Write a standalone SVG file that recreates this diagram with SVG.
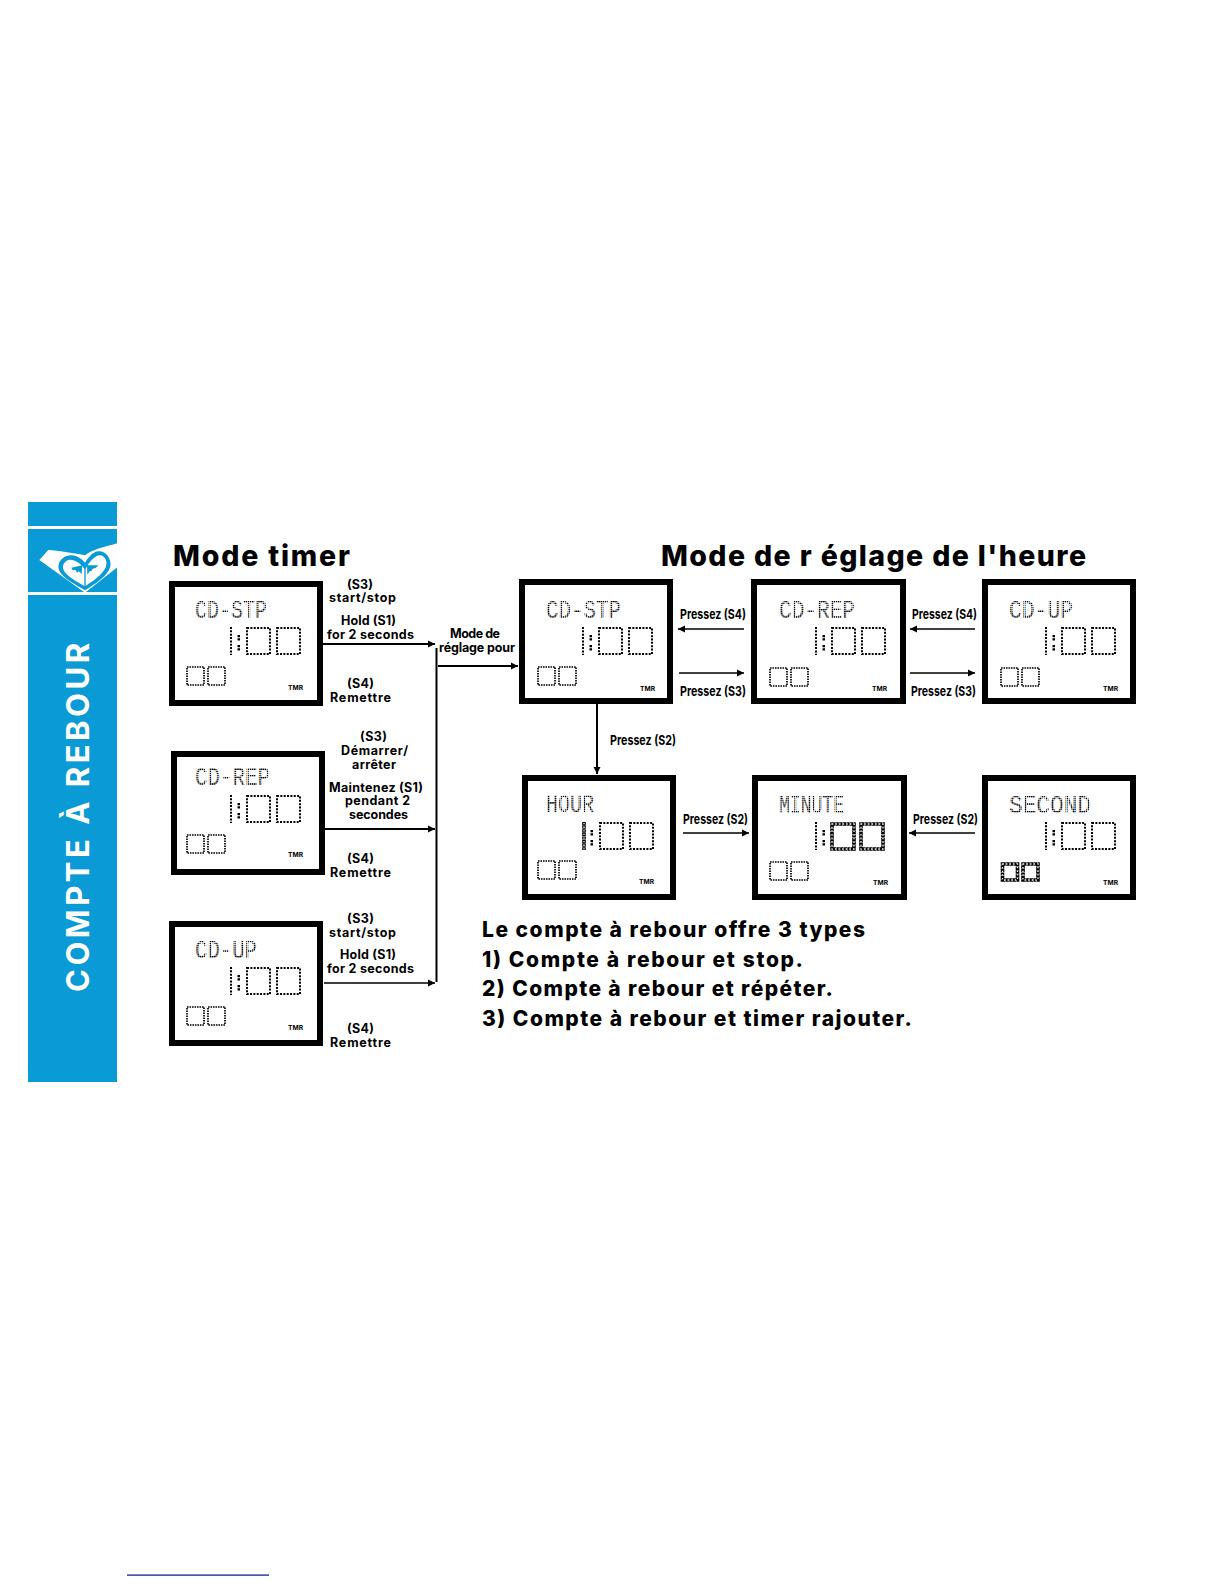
<svg xmlns="http://www.w3.org/2000/svg" width="1224" height="1584" viewBox="0 0 1224 1584">
<style>
text{font-family:Inter,"Liberation Sans",sans-serif;font-weight:700;fill:#000}
.h{font-size:28.500px;font-weight:800}
.b{font-size:21px;font-weight:800}
.l{font-size:12.5px}
.p{font-size:13.5px}
.tmr{font-size:6.5px}
.side{font-size:31px;fill:#fff;font-weight:700}
.t{font-family:"Liberation Mono","DejaVu Sans Mono",monospace;font-weight:400;font-size:26px;fill:url(#dots)}
.f{fill:#fff;stroke:#000;stroke-width:6}
.dg{fill:none;stroke:#000;stroke-width:2;stroke-dasharray:2 1.35}
.ld{fill:none;stroke:#000;stroke-width:1.7;stroke-dasharray:1.6 .9}
.o1{fill:none;stroke:#000;stroke-width:3.6;stroke-dasharray:3.2 .4}
.o2{fill:none;stroke:#fff;stroke-width:1.3;stroke-dasharray:1.3 2.3}
.c{fill:none;stroke:#000;stroke-width:2}
.c1{fill:none;stroke:#000;stroke-width:1.4}
</style>
<defs>
<pattern id="dots" width="2.1" height="2.1" patternUnits="userSpaceOnUse"><rect width="1.5" height="1.5" fill="#000"/></pattern>
<marker id="a" markerUnits="userSpaceOnUse" markerWidth="8" markerHeight="8" refX="7" refY="4" orient="auto"><path d="M0,.5L7,4L0,7.500z" fill="#000"/></marker>
<g id="bar"><line class="dg" x1="1" y1="0" x2="1" y2="28"/></g>
<g id="colon"><path d="M7.500,8h2.500v2.200h-2.500zM7.500,11.200h2.500v2.200h-2.500zM7.500,18h2.500v2.200h-2.500zM7.500,21.200h2.500v2.200h-2.500z" fill="#000"/></g>
<g id="digs"><rect class="dg" x="17" y="1" width="23" height="26"/><rect class="dg" x="47" y="1" width="23" height="26"/></g>
<g id="clock"><use href="#bar"/><use href="#colon"/><use href="#digs"/></g>
<g id="low"><rect class="ld" x="1" y="1" width="17" height="18"/><rect class="ld" x="22" y="1" width="17" height="18"/></g>
</defs>

<rect x="127" y="1574.500" width="142" height="1.200" fill="#0a0a8c"/>

<g id="sidebar">
<rect x="28" y="502" width="89" height="580" fill="#0a9bd6"/>
<rect x="28" y="526" width="89" height="3" fill="#fff"/>
<rect x="28" y="592" width="89" height="3" fill="#fff"/>
<g id="logo" transform="translate(30,530) scale(.3333)">
<path d="M28,90L55,60C85,62 125,68 165,76C190,56 230,50 262,40L262,112L165,188Z" fill="#fff"/>
<path d="M165,98C150,80 128,72 110,78C90,85 80,105 88,122C98,145 140,165 165,181C190,165 232,140 241,110C246,85 225,60 203,64C188,67 175,82 165,98Z" fill="#0a9bd6"/>
<path d="M163,116C150,98 130,86 115,90C100,96 95,110 102,122C112,140 145,157 163,168ZM167,116C177,98 195,74 212,76C228,80 233,98 227,112C218,134 188,154 167,168Z" fill="#fff"/>
<path d="M124,113L157,106L155,132L146,124L141,128L137,120L128,121ZM171,106L205,106L197,114L188,116L185,122L179,124L172,134Z" fill="#0a9bd6"/>
</g>
<text class="side" transform="translate(89,992) rotate(-90)" textLength="349">COMPTE À REBOUR</text>
</g>

<g id="titles">
<text class="h" x="173" y="566" textLength="177">Mode timer</text>
<text class="h" x="661" y="566" textLength="425">Mode de r églage de l'heure</text>
</g>

<g id="timer-cd-stp">
<rect class="f" x="172" y="584" width="148" height="119"/>
<text class="t" x="195" y="618" textLength="72" lengthAdjust="spacingAndGlyphs">CD-STP</text>
<use href="#clock" x="230" y="627"/><use href="#low" x="186" y="666"/>
<text class="tmr" x="288" y="690" textLength="15" lengthAdjust="spacingAndGlyphs">TMR</text>
</g>
<g id="timer-cd-rep">
<rect class="f" x="174" y="754" width="148" height="118"/>
<text class="t" x="195" y="785" textLength="75" lengthAdjust="spacingAndGlyphs">CD-REP</text>
<use href="#clock" x="230" y="795"/><use href="#low" x="186" y="834"/>
<text class="tmr" x="288" y="857" textLength="15" lengthAdjust="spacingAndGlyphs">TMR</text>
</g>
<g id="timer-cd-up">
<rect class="f" x="172" y="924" width="148" height="119"/>
<text class="t" x="195" y="958" textLength="62" lengthAdjust="spacingAndGlyphs">CD-UP</text>
<use href="#clock" x="230" y="967"/><use href="#low" x="186" y="1006"/>
<text class="tmr" x="288" y="1030" textLength="15" lengthAdjust="spacingAndGlyphs">TMR</text>
</g>
<g id="set-cd-stp">
<rect class="f" x="522" y="582" width="148" height="119"/>
<text class="t" x="546" y="618" textLength="75" lengthAdjust="spacingAndGlyphs">CD-STP</text>
<use href="#clock" x="582" y="627"/><use href="#low" x="537" y="666"/>
<text class="tmr" x="640" y="691" textLength="15" lengthAdjust="spacingAndGlyphs">TMR</text>
</g>
<g id="set-cd-rep">
<rect class="f" x="754" y="582" width="149" height="119"/>
<text class="t" x="779" y="618" textLength="76" lengthAdjust="spacingAndGlyphs">CD-REP</text>
<use href="#clock" x="815" y="627"/><use href="#low" x="769" y="667"/>
<text class="tmr" x="872" y="691" textLength="15" lengthAdjust="spacingAndGlyphs">TMR</text>
</g>
<g id="set-cd-up">
<rect class="f" x="985" y="582" width="148" height="119"/>
<text class="t" x="1009" y="618" textLength="64" lengthAdjust="spacingAndGlyphs">CD-UP</text>
<use href="#clock" x="1045" y="627"/><use href="#low" x="1000" y="667"/>
<text class="tmr" x="1103" y="691" textLength="15" lengthAdjust="spacingAndGlyphs">TMR</text>
</g>
<g id="set-hour">
<rect class="f" x="525" y="778" width="148" height="119"/>
<text class="t" x="546" y="812" textLength="48" lengthAdjust="spacingAndGlyphs">HOUR</text>
<line class="o1" x1="584" y1="822" x2="584" y2="850"/><line class="o2" x1="584" y1="823" x2="584" y2="850"/>
<use href="#colon" x="583" y="822"/><use href="#digs" x="583" y="822"/><use href="#low" x="537" y="860"/>
<text class="tmr" x="639" y="884" textLength="15" lengthAdjust="spacingAndGlyphs">TMR</text>
</g>
<g id="set-minute">
<rect class="f" x="755" y="778" width="149" height="119"/>
<text class="t" x="779" y="813" textLength="65" lengthAdjust="spacingAndGlyphs">MINUTE</text>
<use href="#bar" x="815" y="822"/><use href="#colon" x="815" y="822"/>
<rect class="o1" x="832" y="824" width="22" height="25"/><rect class="o2" x="832" y="824" width="22" height="25"/>
<rect class="o1" x="861" y="824" width="22" height="25"/><rect class="o2" x="861" y="824" width="22" height="25"/>
<use href="#low" x="769" y="861"/>
<text class="tmr" x="873" y="885" textLength="15" lengthAdjust="spacingAndGlyphs">TMR</text>
</g>
<g id="set-second">
<rect class="f" x="985" y="778" width="148" height="119"/>
<text class="t" x="1009" y="813" textLength="82" lengthAdjust="spacingAndGlyphs">SECOND</text>
<use href="#clock" x="1045" y="822"/>
<rect class="o1" x="1002.500" y="864" width="15" height="16"/><rect class="o2" x="1002.500" y="864" width="15" height="16"/>
<rect class="o1" x="1023" y="864" width="15" height="16"/><rect class="o2" x="1023" y="864" width="15" height="16"/>
<text class="tmr" x="1103" y="885" textLength="15" lengthAdjust="spacingAndGlyphs">TMR</text>
</g>

<g id="connectors">
<line class="c" x1="323" y1="644" x2="435" y2="644" marker-end="url(#a)"/>
<line class="c" x1="325" y1="829" x2="435" y2="829" marker-end="url(#a)"/>
<line class="c1" x1="324" y1="983" x2="435" y2="983" marker-end="url(#a)"/>
<line class="c" x1="436.500" y1="648" x2="436.500" y2="982"/>
<line class="c" x1="438" y1="666" x2="518" y2="666" marker-end="url(#a)"/>
<line class="c" x1="597" y1="704" x2="597" y2="774" marker-end="url(#a)"/>
<line class="c1" x1="744" y1="629" x2="678" y2="629" marker-end="url(#a)"/>
<line class="c1" x1="679" y1="673" x2="744" y2="673" marker-end="url(#a)"/>
<line class="c1" x1="975" y1="629" x2="910" y2="629" marker-end="url(#a)"/>
<line class="c1" x1="910" y1="673" x2="975" y2="673" marker-end="url(#a)"/>
<line class="c1" x1="683" y1="833" x2="749" y2="833" marker-end="url(#a)"/>
<line class="c1" x1="975" y1="833" x2="909" y2="833" marker-end="url(#a)"/>
</g>

<g id="labels">
<text class="l" x="347" y="589" textLength="26">(S3)</text>
<text class="l" x="329" y="602" textLength="67">start/stop</text>
<text class="l" x="341" y="625" textLength="55">Hold (S1)</text>
<text class="l" x="327" y="639" textLength="87">for 2 seconds</text>
<text class="l" x="347" y="688" textLength="27">(S4)</text>
<text class="l" x="330" y="702" textLength="61">Remettre</text>
<text class="l" x="360" y="741" textLength="27">(S3)</text>
<text class="l" x="341" y="755" textLength="67">Démarrer/</text>
<text class="l" x="352" y="769" textLength="44">arrêter</text>
<text class="l" x="329" y="792" textLength="94">Maintenez (S1)</text>
<text class="l" x="345" y="805" textLength="65">pendant 2</text>
<text class="l" x="349" y="819" textLength="59">secondes</text>
<text class="l" x="347" y="863" textLength="27">(S4)</text>
<text class="l" x="330" y="877" textLength="61">Remettre</text>
<text class="l" x="347" y="923" textLength="27">(S3)</text>
<text class="l" x="329" y="937" textLength="67">start/stop</text>
<text class="l" x="340" y="959" textLength="56">Hold (S1)</text>
<text class="l" x="327" y="973" textLength="87">for 2 seconds</text>
<text class="l" x="347" y="1033" textLength="27">(S4)</text>
<text class="l" x="330" y="1047" textLength="61">Remettre</text>
<text class="l" x="450" y="638" textLength="50">Mode de</text>
<text class="l" x="439" y="652" textLength="76">réglage pour</text>
<text class="p" x="680" y="619" textLength="66" lengthAdjust="spacingAndGlyphs">Pressez (S4)</text>
<text class="p" x="680" y="696" textLength="66" lengthAdjust="spacingAndGlyphs">Pressez (S3)</text>
<text class="p" x="912" y="619" textLength="65" lengthAdjust="spacingAndGlyphs">Pressez (S4)</text>
<text class="p" x="911" y="696" textLength="65" lengthAdjust="spacingAndGlyphs">Pressez (S3)</text>
<text class="p" x="610" y="745" textLength="66" lengthAdjust="spacingAndGlyphs">Pressez (S2)</text>
<text class="p" x="683" y="824" textLength="65" lengthAdjust="spacingAndGlyphs">Pressez (S2)</text>
<text class="p" x="913" y="824" textLength="65" lengthAdjust="spacingAndGlyphs">Pressez (S2)</text>
</g>

<g id="body">
<text class="b" x="482" y="937" textLength="383">Le compte à rebour offre 3 types</text>
<text class="b" x="482" y="967" textLength="321">1) Compte à rebour et stop.</text>
<text class="b" x="482" y="996" textLength="351">2) Compte à rebour et répéter.</text>
<text class="b" x="482" y="1026" textLength="430">3) Compte à rebour et timer rajouter.</text>
</g>
</svg>
